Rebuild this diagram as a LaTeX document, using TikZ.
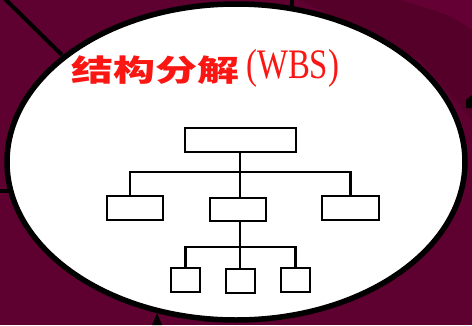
\documentclass[tikz,border=0pt]{standalone}
\usepackage{fontspec}
\usetikzlibrary{shapes.geometric}
\newfontfamily\cjkfont{Noto Sans CJK SC}
\newfontfamily\titleserif{Liberation Serif}
\definecolor{maroon}{RGB}{94,0,48}
\definecolor{maroondark}{RGB}{84,0,41}
\definecolor{maroonlight}{RGB}{100,0,52}
\definecolor{titlered}{RGB}{250,22,18}
\begin{document}
\begin{tikzpicture}[x=1pt,y=-1pt,
  wbsbox/.style={draw=black,line width=2.2pt,fill=white,inner sep=0pt},
  wbsline/.style={draw=black,line width=2.2pt},
  blackstroke/.style={draw=black,line width=4pt}]
\useasboundingbox (0,0) rectangle (472,325);
% background
\fill[maroon] (0,0) rectangle (472,325);
\fill[maroondark] (300,0) -- (472,0) -- (472,120) -- (420,60) -- cycle;
\fill[maroonlight] (400,0) -- (472,0) -- (472,30) .. controls (450,15) .. (400,0);
% black strokes behind
\draw[blackstroke] (4,-2) -- (62,55);
\draw[blackstroke] (-2,191) -- (14,191);
\draw[blackstroke] (292,-2) -- (292,6);
\fill[black] (152,325) -- (157,313) -- (162,325) -- cycle;
\fill[black] (472,95) -- (466,100) -- (466,108) -- (472,108) -- cycle;
% ellipse
\node[draw=black,line width=5.5pt,fill=white,ellipse,inner sep=0pt,
  minimum width=458pt,minimum height=316pt] (oval) at (236,162) {};
% title
\node[anchor=west,inner sep=0pt,text=titlered] (titlecn) at (71,70)
  {\scalebox{1.4}[1]{\fontsize{30}{30}\selectfont\cjkfont\bfseries 结构分解}};
\node[anchor=west,inner sep=0pt,text=titlered] (titleen) at (246,68)
  {\scalebox{0.78}[1]{\fontsize{42}{42}\selectfont\titleserif (WBS)}};
% boxes
\node[wbsbox,minimum width=111pt,minimum height=24pt] (top) at (240.5,140) {};
\node[wbsbox,minimum width=56pt,minimum height=24pt] (l1) at (135,208) {};
\node[wbsbox,minimum width=56pt,minimum height=23pt] (m1) at (238,209.5) {};
\node[wbsbox,minimum width=57pt,minimum height=24pt] (r1) at (350.5,208) {};
\node[wbsbox,minimum width=29pt,minimum height=24pt] (l2) at (185.5,280) {};
\node[wbsbox,minimum width=29pt,minimum height=24pt] (m2) at (240.5,281) {};
\node[wbsbox,minimum width=29pt,minimum height=24pt] (r2) at (295.5,280) {};
% connectors
\coordinate (bar1) at (240,172);
\coordinate (bar2) at (240,247);
\draw[wbsline] (top.south -| bar1) -- (bar1);
\draw[wbsline] ([xshift=-5pt]l1.north) |- (bar1) -| (r1.north);
\draw[wbsline] (bar1) -- (m1.north -| bar1);
\draw[wbsline] (m1.south -| bar2) -- (bar2);
\draw[wbsline] (l2.north) |- (bar2) -| (r2.north);
\draw[wbsline] (bar2) -- (m2.north -| bar2);
\end{tikzpicture}
\end{document}
